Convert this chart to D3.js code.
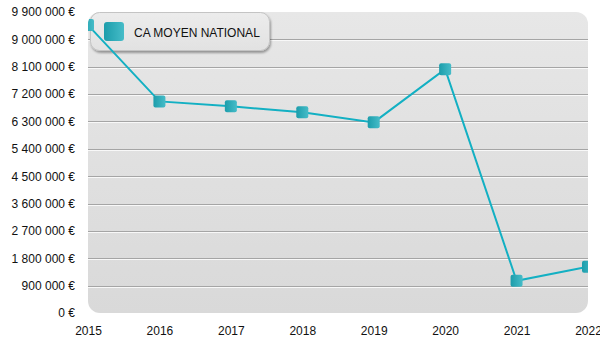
<!DOCTYPE html>
<html>
<head>
<meta charset="utf-8">
<script src="https://cdn.jsdelivr.net/npm/d3@7"></script>
<style>
  html, body { margin: 0; padding: 0; background: #fff; }
  svg { display: block; font-family: "Liberation Sans", Arial, sans-serif; }
</style>
</head>
<body>
<svg id="chart" width="600" height="350"></svg>
<script>
// Average national turnover per year
const years = ["2015", "2016", "2017", "2018", "2019", "2020", "2021", "2022"];
const caMoyen = [9470000, 6960000, 6800000, 6600000, 6270000, 8020000, 1060000, 1520000];
const yTicks = [0, 900000, 1800000, 2700000, 3600000, 4500000, 5400000, 6300000, 7200000, 8100000, 9000000, 9900000];
const seriesName = "CA MOYEN NATIONAL";

const svg = d3.select("#chart");
const margin = { left: 88, right: 12, top: 12, bottom: 37 };
const W = 600, H = 350;
const pw = W - margin.left - margin.right;
const ph = H - margin.top - margin.bottom;

const x = d3.scalePoint().domain(years).range([0, pw]);
const y = d3.scaleLinear().domain([0, 9900000]).range([ph, 0]);

const defs = svg.append("defs");
const bg = defs.append("linearGradient").attr("id", "bg").attr("x1", 0).attr("y1", 0).attr("x2", 0).attr("y2", 1);
bg.append("stop").attr("offset", "0%").attr("stop-color", "#e7e7e7");
bg.append("stop").attr("offset", "100%").attr("stop-color", "#d9d9d9");

const mk = defs.append("linearGradient").attr("id", "mk").attr("x1", 0).attr("y1", 0).attr("x2", 1).attr("y2", 0);
mk.append("stop").attr("offset", "0%").attr("stop-color", "#1c9dab");
mk.append("stop").attr("offset", "100%").attr("stop-color", "#46bcc8");

const lg = defs.append("linearGradient").attr("id", "lg").attr("x1", 0).attr("y1", 0).attr("x2", 0).attr("y2", 1);
lg.append("stop").attr("offset", "0%").attr("stop-color", "#ececec");
lg.append("stop").attr("offset", "100%").attr("stop-color", "#e2e2e2");

const shadow = defs.append("filter").attr("id", "shadow").attr("x", "-10%").attr("y", "-20%").attr("width", "130%").attr("height", "160%");
shadow.append("feDropShadow").attr("dx", 1).attr("dy", 2).attr("stdDeviation", 1.3)
  .attr("flood-color", "#000").attr("flood-opacity", 0.35);

defs.append("clipPath").attr("id", "plotclip")
  .append("rect").attr("width", pw).attr("height", ph).attr("rx", 12);

const g = svg.append("g").attr("transform", `translate(${margin.left},${margin.top})`);

// plot background
g.append("rect").attr("width", pw).attr("height", ph).attr("rx", 12).attr("fill", "url(#bg)");

// embossed gridlines
const gridVals = yTicks.filter(v => v > 0 && v < 9900000);
g.append("g").selectAll("line.gd").data(gridVals).join("line")
  .attr("x1", 0).attr("x2", pw)
  .attr("y1", d => Math.round(y(d)) + 0.5).attr("y2", d => Math.round(y(d)) + 0.5)
  .attr("stroke", "#a5a5a5").attr("stroke-width", 1);
g.append("g").selectAll("line.gl").data(gridVals).join("line")
  .attr("x1", 0).attr("x2", pw)
  .attr("y1", d => Math.round(y(d)) + 1.5).attr("y2", d => Math.round(y(d)) + 1.5)
  .attr("stroke", "#f8f8f8").attr("stroke-width", 1);

// y axis labels
const fmt = v => d3.format(",")(v).replace(/,/g, " ") + " €";
const yAxis = d3.axisLeft(y).tickValues(yTicks).tickFormat(fmt).tickSize(0).tickPadding(13);
const ya = g.append("g").call(yAxis);
ya.select(".domain").remove();
ya.selectAll("text").attr("font-size", 12).attr("fill", "#111").attr("font-family", "'Liberation Sans', Arial, sans-serif");

// x axis labels
const xAxis = d3.axisBottom(x).tickSize(0).tickPadding(13);
const xa = g.append("g").attr("transform", `translate(0,${ph})`).call(xAxis);
xa.select(".domain").remove();
xa.selectAll("text").attr("font-size", 12).attr("fill", "#111").attr("font-family", "'Liberation Sans', Arial, sans-serif");

// legend
const leg = g.append("g").attr("transform", "translate(2,0)");
leg.append("rect").attr("x", 0.5).attr("y", 0.5).attr("width", 179).attr("height", 38).attr("rx", 9)
  .attr("fill", "url(#lg)").attr("stroke", "#c4c4c4").attr("filter", "url(#shadow)");
leg.append("rect").attr("x", 14).attr("y", 10).attr("width", 20).attr("height", 19).attr("rx", 3)
  .attr("fill", "url(#mk)");
leg.append("text").attr("x", 44).attr("y", 24.5).attr("font-size", 12).attr("fill", "#111")
  .text(seriesName);

// series
const data = years.map((yr, i) => ({ yr, v: caMoyen[i] }));
const series = g.append("g").attr("clip-path", "url(#plotclip)");
series.append("path").datum(data)
  .attr("fill", "none").attr("stroke", "#13b0c3").attr("stroke-width", 2)
  .attr("d", d3.line().x(d => x(d.yr)).y(d => y(d.v)));
series.selectAll("rect.m").data(data).join("rect")
  .attr("x", d => x(d.yr) - 6).attr("y", d => y(d.v) - 6)
  .attr("width", 12).attr("height", 12).attr("rx", 2)
  .attr("fill", "url(#mk)");
</script>
</body>
</html>
